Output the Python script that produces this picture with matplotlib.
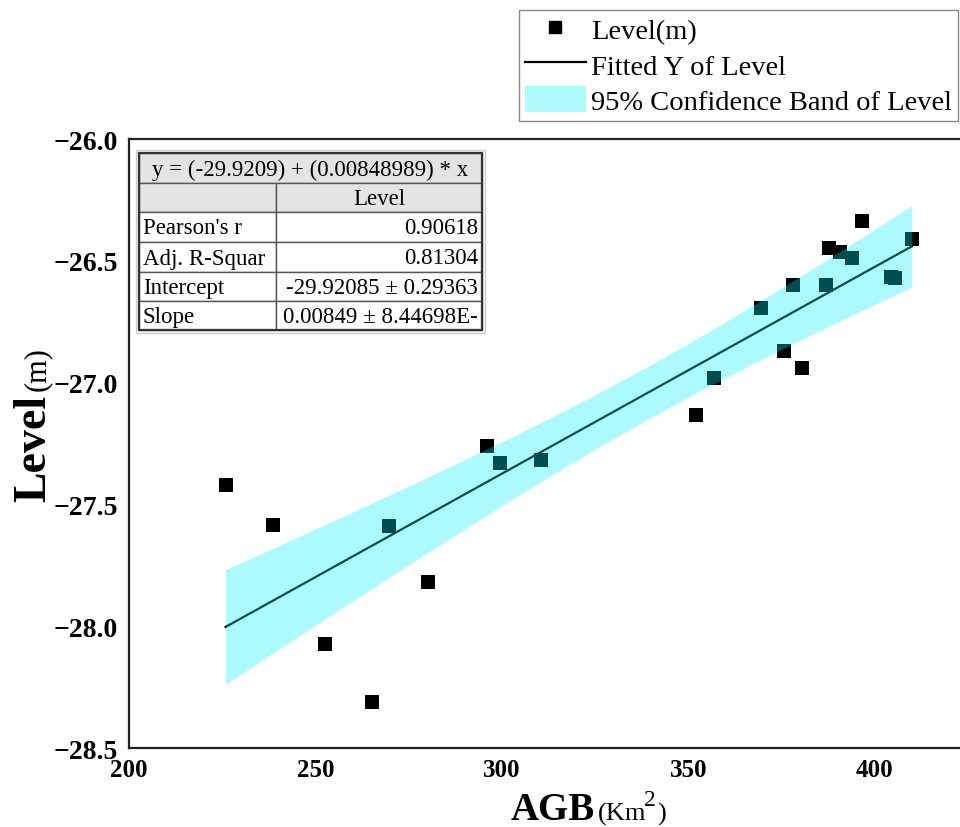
import numpy as np
import matplotlib
matplotlib.use("Agg")
import matplotlib.pyplot as plt
from matplotlib.lines import Line2D
from matplotlib.patches import Patch, Rectangle

# ---------------- data ----------------
agb = [225.9, 238.7, 252.6, 265.3, 269.7, 280.2, 296.0, 299.6, 310.5, 352.0,
       356.8, 369.4, 375.6, 378.0, 380.5, 386.8, 387.6, 390.8, 393.8, 396.6,
       404.3, 405.5, 409.9]
level = [-27.42, -27.583, -28.074, -28.312, -27.587, -27.820, -27.259, -27.331,
         -27.316, -27.133, -26.980, -26.695, -26.869, -26.598, -26.940, -26.601,
         -26.449, -26.465, -26.490, -26.335, -26.568, -26.572, -26.411]

fit_intercept = -29.92085
fit_slope = 0.00848989
t_value = 2.080  # t(0.975, n-2)

x_ticks = [200, 250, 300, 350, 400]
y_ticks = [-28.5, -28.0, -27.5, -27.0, -26.5, -26.0]

legend_labels = ["Level(m)", "Fitted Y of Level", "95% Confidence Band of Level"]
table_equation = "y = (-29.9209) + (0.00848989) * x"
table_header = ["", "Level"]
table_rows = [["Pearson's r", "0.90618"],
              ["Adj. R-Squar", "0.81304"],
              ["Intercept", "-29.92085 \u00b1 0.29363"],
              ["Slope", "0.00849 \u00b1 8.44698E-"]]

# ---------------- style ----------------
plt.rcParams['font.family'] = ['Liberation Serif', 'DejaVu Serif']
plt.rcParams['mathtext.fontset'] = 'custom'
plt.rcParams['mathtext.rm'] = 'Liberation Serif'
plt.rcParams['mathtext.bf'] = 'Liberation Serif:bold'

W, H = 960, 828
fig = plt.figure(figsize=(W / 100, H / 100), dpi=100)


def fx(p):
    return p / W


def fy(p):
    return 1 - p / H


ax = fig.add_axes([fx(129), fy(749), fx(968) - fx(129), fy(140) - fy(749)])
ax.set_xlim(200, 425)
ax.set_ylim(-28.5, -26.0)
ax.set_xticks(x_ticks)
ax.set_yticks(y_ticks)
ax.tick_params(axis='x', length=0, labelsize=18, pad=7)
ax.tick_params(axis='y', length=0, labelsize=20, pad=8)
for lbl in ax.get_xticklabels() + ax.get_yticklabels():
    lbl.set_fontweight('bold')
for sp in ax.spines.values():
    sp.set_linewidth(1.6)
    sp.set_color('#222222')

x = np.array(agb)
y = np.array(level)
n = len(x)

# points
ax.scatter(x, y, marker='s', s=90, c='black', linewidths=0, zorder=2)

# fitted line
xl = np.array([x.min(), x.max()])
ax.plot(xl, fit_intercept + fit_slope * xl, color='black', lw=1.6, zorder=2.5)

# confidence band
resid = y - (fit_intercept + fit_slope * x)
s = np.sqrt(np.sum(resid ** 2) / (n - 2))
xbar = x.mean()
sxx = np.sum((x - xbar) ** 2)
xg = np.linspace(x.min(), x.max(), 200)
yg = fit_intercept + fit_slope * xg
half = t_value * s * np.sqrt(1.0 / n + (xg - xbar) ** 2 / sxx)
band_color = '#00f2f6'
band_alpha = 0.32
ax.fill_between(xg, yg - half, yg + half, color=band_color, alpha=band_alpha,
                linewidth=0, zorder=3)

# ---------------- legend ----------------
handles = [Line2D([], [], marker='s', color='black', ls='none', markersize=9),
           Line2D([], [], color='black', lw=1.6),
           Patch(facecolor=band_color, alpha=band_alpha, edgecolor='none')]
leg = fig.legend(handles, legend_labels, loc='upper right',
                 bbox_to_anchor=(fx(958), fy(11)), bbox_transform=fig.transFigure,
                 fontsize=20.5, frameon=True, fancybox=False, framealpha=1,
                 edgecolor='#888888', borderpad=0.2, handlelength=2.15,
                 handleheight=1.05, handletextpad=0.2, labelspacing=0.22,
                 borderaxespad=0)
leg.get_frame().set_linewidth(1.0)

# ---------------- table ----------------
row_edges = [154, 184, 213, 243, 273, 302, 331]
col_edges = [139, 276, 482]
tfs = 16.5
tr = fig.transFigure


def rect(x0, y0, x1, y1, fc, ec, lw, z=10):
    fig.patches.append(Rectangle((fx(x0), fy(y1)), fx(x1) - fx(x0), fy(y0) - fy(y1),
                                 transform=tr, facecolor=fc, edgecolor=ec,
                                 linewidth=lw, zorder=z))


# light outer halo
rect(col_edges[0] - 3, row_edges[0] - 3, col_edges[2] + 3, row_edges[-1] + 3,
     'white', '#cfcfcf', 1.0, z=9)
# equation row
rect(col_edges[0], row_edges[0], col_edges[2], row_edges[1], '#e4e4e4', '#555555', 1.0)
fig.text(fx((col_edges[0] + col_edges[2]) / 2), fy((row_edges[0] + row_edges[1]) / 2 + 1),
         table_equation, ha='center', va='center', fontsize=tfs, zorder=12)
# header row
for j in range(2):
    rect(col_edges[j], row_edges[1], col_edges[j + 1], row_edges[2], '#e4e4e4', '#555555', 1.0)
fig.text(fx((col_edges[1] + col_edges[2]) / 2), fy((row_edges[1] + row_edges[2]) / 2 + 1),
         table_header[1], ha='center', va='center', fontsize=tfs, zorder=12)
# body rows
for i, (name, val) in enumerate(table_rows):
    y0, y1 = row_edges[i + 2], row_edges[i + 3]
    rect(col_edges[0], y0, col_edges[1], y1, 'white', '#555555', 1.0)
    rect(col_edges[1], y0, col_edges[2], y1, 'white', '#555555', 1.0)
    fig.text(fx(col_edges[0] + 4), fy((y0 + y1) / 2 + 1), name,
             ha='left', va='center', fontsize=tfs, zorder=12)
    fig.text(fx(col_edges[2] - 4), fy((y0 + y1) / 2 + 1), val,
             ha='right', va='center', fontsize=tfs, zorder=12)
# outer border
rect(col_edges[0], row_edges[0], col_edges[2], row_edges[-1], 'none', '#333333', 1.6, z=13)

# ---------------- axis labels ----------------
agb_txt = fig.text(fx(511), fy(820), "AGB", fontsize=28, fontweight='bold',
                   ha='left', va='baseline')
km_txt = ax.annotate("(Km", xy=(1, 0), xycoords=agb_txt, xytext=(2, 0.216 * 28),
                     textcoords='offset points', fontsize=19, ha='left',
                     va='baseline', annotation_clip=False)
sup_txt = ax.annotate("2", xy=(1, 1), xycoords=km_txt, xytext=(-1.5, -2),
                      textcoords='offset points', fontsize=17, ha='left',
                      va='baseline', annotation_clip=False)
ax.annotate(")", xy=(1, 0), xycoords=km_txt, xytext=(8, 0),
            textcoords='offset points', fontsize=19, ha='left', va='bottom',
            annotation_clip=False)

lev_txt = fig.text(fx(45), fy(502), "Level", fontsize=33, fontweight='bold',
                   rotation=90, rotation_mode='anchor', ha='left', va='baseline')
ax.annotate("(m)", xy=(1, 1), xycoords=lev_txt, xytext=(-0.216 * 33, 3),
            textcoords='offset points', fontsize=22, rotation=90,
            rotation_mode='anchor', ha='left', va='baseline', annotation_clip=False)

fig.savefig("out.png", dpi=100)
